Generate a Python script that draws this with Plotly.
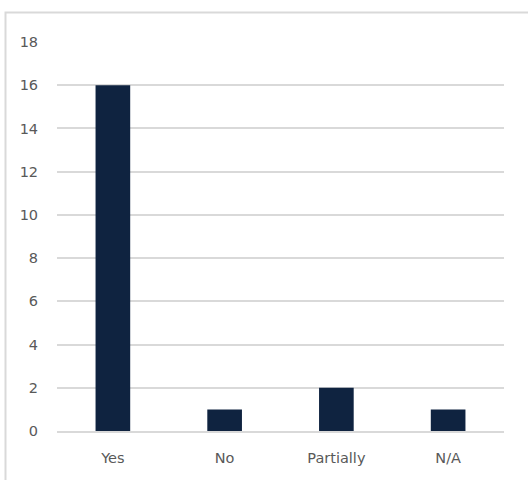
import plotly.graph_objects as go

# Survey responses
categories = ["Yes", "No", "Partially", "N/A"]
counts = [16, 1, 2, 1]
y_ticks = [0, 2, 4, 6, 8, 10, 12, 14, 16, 18]

BAR_COLOR = "#0f2340"
GRID_COLOR = "#d9d9d9"
TEXT_COLOR = "#595959"
FONT = "'DejaVu Sans', sans-serif"

fig = go.Figure(
    go.Bar(
        x=categories,
        y=counts,
        marker=dict(color=BAR_COLOR, line=dict(width=0)),
        hoverinfo="x+y",
    )
)

# plot area geometry (pixels) used to place the outer frame in paper units
W, H = 528, 480
L, R, T, B = 57, 24, 42, 49
pw, ph = W - L - R, H - T - B

fig.add_shape(
    type="rect",
    xref="paper", yref="paper",
    x0=(5.5 - L) / pw, x1=(W + 20 - L) / pw,
    y0=-(H + 20 - (H - B)) / ph, y1=((H - B) - 12.5) / ph,
    line=dict(color="#d9d9d9", width=2),
    fillcolor="rgba(0,0,0,0)",
    layer="below",
)

fig.update_layout(
    width=W,
    height=H,
    margin=dict(l=L, r=R, t=T, b=B, pad=0),
    paper_bgcolor="white",
    plot_bgcolor="white",
    bargap=0.69,
    showlegend=False,
    font=dict(family=FONT, size=14.5, color=TEXT_COLOR),
    xaxis=dict(
        showgrid=False,
        showline=True,
        linecolor=GRID_COLOR,
        linewidth=1.5,
        ticks="outside",
        ticklen=13,
        tickcolor="rgba(0,0,0,0)",
        zeroline=False,
    ),
    yaxis=dict(
        range=[0, 18],
        tickvals=y_ticks,
        showgrid=True,
        gridcolor=GRID_COLOR,
        gridwidth=1.5,
        zeroline=False,
        showline=False,
        ticks="outside",
        ticklen=15,
        tickcolor="rgba(0,0,0,0)",
    ),
)

fig.write_html("out.html")
